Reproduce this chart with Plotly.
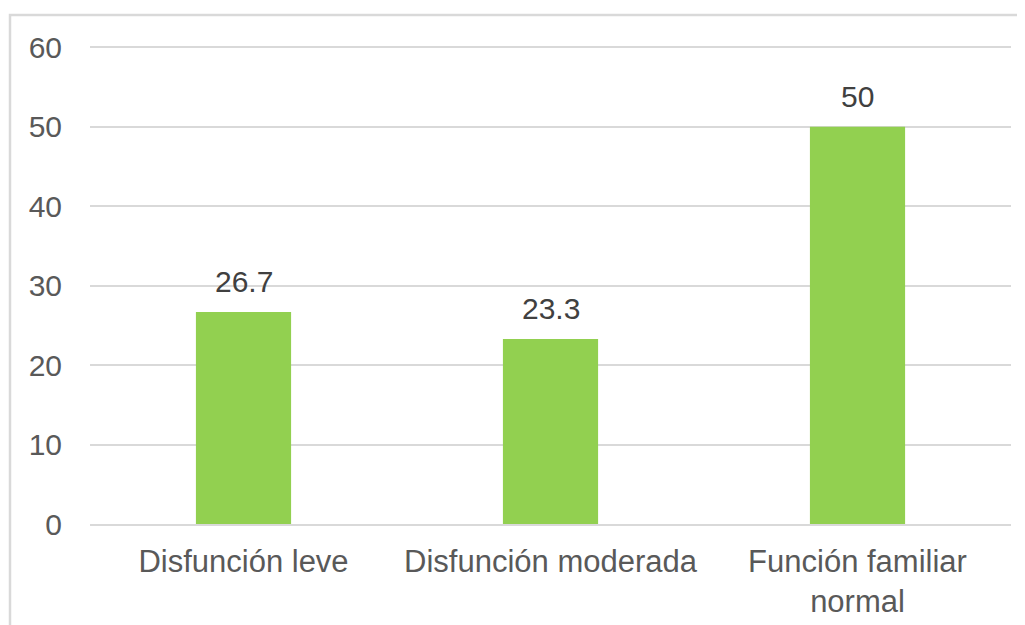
import plotly.graph_objects as go

categories = ["Disfunción leve", "Disfunción moderada", "Función familiar<br>normal"]
values = [26.7, 23.3, 50]
value_labels = ["26.7", "23.3", "50"]

# page has an 8px body offset; figure sized to fill the rest of the window
OFF = 8
W, H = 1025 - OFF, 625 - OFF
ml, mr, mt, mb = 82, 14, 37, 101
pw = W - ml - mr
ph = H - mt - mb

def px_to_paper_x(px):
    return (px - OFF - ml) / pw

def px_to_paper_y(py):
    return (H - mb - (py - OFF)) / ph

fig = go.Figure()
fig.add_trace(go.Bar(
    x=categories,
    y=values,
    marker=dict(color="#92D050", line=dict(width=0)),
    cliponaxis=False,
))

for c, v, t in zip(categories, values, value_labels):
    fig.add_annotation(
        x=c, y=v, xref="x", yref="y", text=t, showarrow=False,
        yanchor="bottom", yshift=12,
        font=dict(family="Liberation Sans, Arial, sans-serif", size=30, color="#404040"),
    )

fig.update_layout(
    width=W, height=H,
    margin=dict(l=ml, r=mr, t=mt, b=mb, pad=0),
    paper_bgcolor="white",
    plot_bgcolor="white",
    bargap=0.69,
    showlegend=False,
    font=dict(family="Liberation Sans, Arial, sans-serif", size=30, color="#595959"),
    xaxis=dict(
        automargin=False,
        showgrid=False,
        showline=True, linecolor="#D9D9D9", linewidth=1.5,
        ticks="", ticklabelstandoff=9,
        tickfont=dict(size=31, color="#595959"),
    ),
    yaxis=dict(
        automargin=False,
        range=[0, 60.3], tickvals=[0, 10, 20, 30, 40, 50, 60],
        showgrid=True, gridcolor="#D9D9D9", gridwidth=1.5,
        zeroline=False, showline=False,
        ticks="", ticklabelstandoff=27,
        tickfont=dict(size=30, color="#595959"),
    ),
    shapes=[dict(
        type="rect", xref="paper", yref="paper",
        x0=px_to_paper_x(10), x1=px_to_paper_x(1100),
        y0=px_to_paper_y(700), y1=px_to_paper_y(15),
        line=dict(color="#D9D9D9", width=2.5),
        fillcolor="rgba(0,0,0,0)", layer="below",
    )],
)

fig.write_html("out.html")
